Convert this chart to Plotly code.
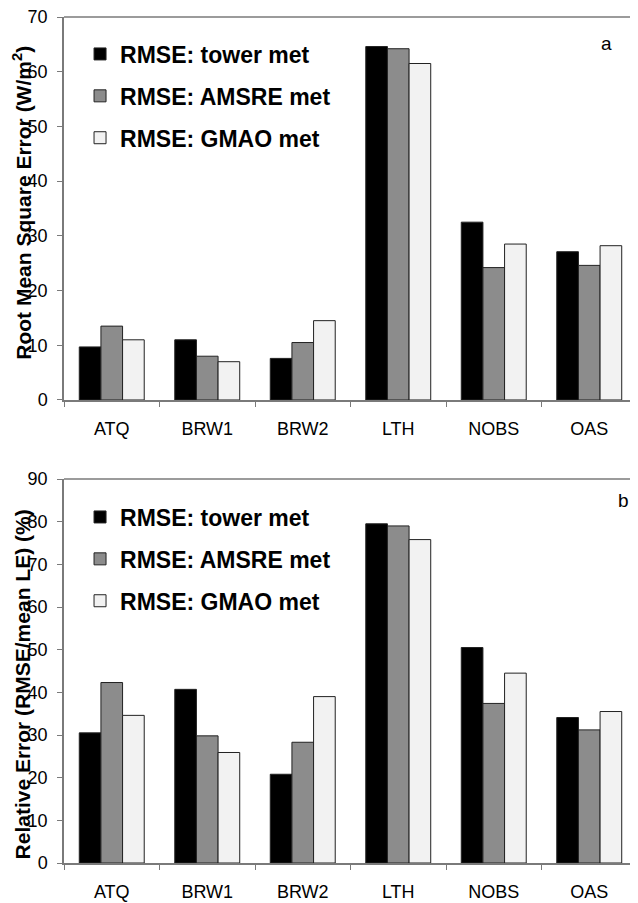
import plotly.graph_objects as go
from plotly.subplots import make_subplots

sites = ["ATQ", "BRW1", "BRW2", "LTH", "NOBS", "OAS"]
series_names = ["RMSE: tower met", "RMSE: AMSRE met", "RMSE: GMAO met"]

rmse_tower = [9.7, 11.0, 7.6, 64.6, 32.5, 27.1]
rmse_amsre = [13.5, 8.0, 10.5, 64.2, 24.2, 24.6]
rmse_gmao = [11.0, 7.0, 14.5, 61.5, 28.5, 28.2]

rel_tower = [30.5, 40.7, 20.8, 79.5, 50.5, 34.1]
rel_amsre = [42.3, 29.8, 28.3, 79.0, 37.4, 31.2]
rel_gmao = [34.6, 25.9, 39.0, 75.8, 44.5, 35.5]

colors = ["#000000", "#8c8c8c", "#f2f2f2"]
FONT = "Liberation Sans, Arial, sans-serif"

fig = make_subplots(rows=2, cols=1)

top_series = [rmse_tower, rmse_amsre, rmse_gmao]
bot_series = [rel_tower, rel_amsre, rel_gmao]

for i, (name, vals) in enumerate(zip(series_names, top_series)):
    fig.add_trace(go.Bar(x=sites, y=vals, name=name, legendgroup="t%d" % i,
                         marker=dict(color=colors[i], line=dict(color="#222222", width=1)),
                         legend="legend"), row=1, col=1)
for i, (name, vals) in enumerate(zip(series_names, bot_series)):
    fig.add_trace(go.Bar(x=sites, y=vals, name=name, legendgroup="b%d" % i,
                         marker=dict(color=colors[i], line=dict(color="#222222", width=1)),
                         legend="legend2"), row=2, col=1)

axis_color = "#7a7a7a"
xcommon = dict(showline=True, linecolor=axis_color, linewidth=1.5, ticks="outside",
               tickson="boundaries", ticklen=5, tickcolor=axis_color,
               tickfont=dict(family=FONT, size=18, color="#000000"),
               ticklabelstandoff=12, showgrid=False, automargin=False)
ycommon = dict(showline=True, linecolor=axis_color, linewidth=1.5, ticks="outside",
               ticklen=5, tickcolor=axis_color, dtick=10,
               tickfont=dict(family=FONT, size=18, color="#000000"),
               ticklabelstandoff=6, ticklabeloverflow="allow",
               showgrid=False, zeroline=False, automargin=False)

fig.update_xaxes(**xcommon)
fig.update_yaxes(**ycommon)
fig.update_layout(
    xaxis=dict(domain=[0, 1]),
    xaxis2=dict(domain=[0, 1]),
    yaxis=dict(domain=[0.5473, 1.0], range=[0, 70]),
    yaxis2=dict(domain=[0.0, 0.4539], range=[0, 90]),
)

legend_style = dict(font=dict(family=FONT, size=23, color="#000000", weight="bold"),
                    bgcolor="rgba(0,0,0,0)", traceorder="grouped", tracegroupgap=9,
                    xanchor="left", yanchor="top", itemwidth=30)
fig.update_layout(
    legend=dict(x=0.028, y=0.9817, **legend_style),
    legend2=dict(x=0.028, y=0.4344, **legend_style),
)

# top border lines of plot areas
fig.add_shape(type="line", xref="x domain", yref="y domain", x0=0, x1=1, y0=1, y1=1,
              line=dict(color=axis_color, width=1.5))
fig.add_shape(type="line", xref="x2 domain", yref="y2 domain", x0=0, x1=1, y0=1, y1=1,
              line=dict(color=axis_color, width=1.5))

annots = [
    dict(text="Root Mean Square Error (W/m<sup>2</sup>)", xref="paper", yref="y domain",
         x=0, y=0.515, xshift=-42, xanchor="center", yanchor="middle", textangle=-90,
         showarrow=False, font=dict(family=FONT, size=21, color="#000000", weight="bold")),
    dict(text="Relative Error (RMSE/mean LE) (%)", xref="paper", yref="y2 domain",
         x=0, y=0.465, xshift=-42, xanchor="center", yanchor="middle", textangle=-90,
         showarrow=False, font=dict(family=FONT, size=21, color="#000000", weight="bold")),
    dict(text="a", xref="x domain", yref="y domain", x=0.946, y=0.931, xanchor="center",
         yanchor="middle", showarrow=False, font=dict(family=FONT, size=19, color="#000000")),
    dict(text="b", xref="x2 domain", yref="y2 domain", x=0.977, y=0.944, xanchor="center",
         yanchor="middle", showarrow=False, font=dict(family=FONT, size=19, color="#000000")),
]
fig.update_layout(annotations=annots)

# the page body has an 8px default margin, so the figure is 8px smaller each way
fig.update_layout(
    width=630, height=895,
    margin=dict(l=56, r=1, t=9, b=40, autoexpand=False),
    bargap=0.32, bargroupgap=0,
    barmode="group",
    plot_bgcolor="white", paper_bgcolor="white",
    font=dict(family=FONT),
)

fig.write_html("out.html")
